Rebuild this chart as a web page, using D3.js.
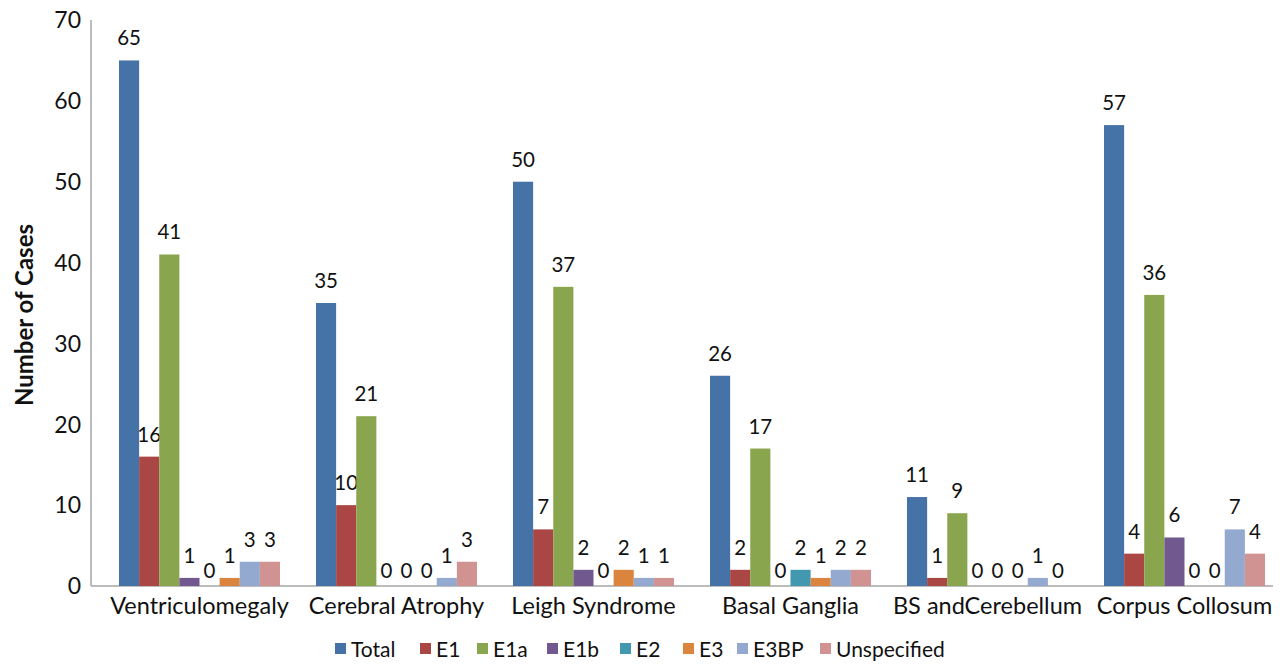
<!DOCTYPE html>
<html>
<head>
<meta charset="utf-8">
<script src="https://cdn.jsdelivr.net/npm/d3@7"></script>
<style>
  html, body { margin: 0; padding: 0; background: #ffffff; }
  svg { display: block; font-family: Lato, "Open Sans", sans-serif; }
</style>
</head>
<body>
<svg id="chart" width="1287" height="666"></svg>
<script>
const categories = ["Ventriculomegaly", "Cerebral Atrophy", "Leigh Syndrome", "Basal Ganglia", "BS andCerebellum", "Corpus Collosum"];
const seriesNames = ["Total", "E1", "E1a", "E1b", "E2", "E3", "E3BP", "Unspecified"];
const seriesColors = ["#4572A7", "#AA4643", "#89A54E", "#71588F", "#4198AF", "#DB843D", "#93A9CF", "#D19392"];
const total       = [65, 35, 50, 26, 11, 57];
const e1          = [16, 10, 7, 2, 1, 4];
const e1a         = [41, 21, 37, 17, 9, 36];
const e1b         = [1, 0, 2, 0, 0, 6];
const e2          = [0, 0, 0, 2, 0, 0];
const e3          = [1, 0, 2, 1, 0, 0];
const e3bp        = [3, 1, 1, 2, 1, 7];
const unspecified = [3, 3, 1, 2, 0, 4];
const yTicks = [0, 10, 20, 30, 40, 50, 60, 70];

const seriesValues = [total, e1, e1a, e1b, e2, e3, e3bp, unspecified];

const svg = d3.select("#chart");
const axisLeft = 91, axisRight = 1273, y0px = 586, yTop = 20;

const x0 = d3.scaleBand().domain(categories).range([101, 1283]).paddingInner(0).paddingOuter(0);
const groupW = 161;
const x1 = d3.scaleBand().domain(seriesNames).range([0, groupW]).padding(0);
const y = d3.scaleLinear().domain([0, 70]).range([y0px, yTop]);

// y axis line
svg.append("line").attr("x1", axisLeft).attr("x2", axisLeft).attr("y1", yTop).attr("y2", y0px)
  .attr("stroke", "#a6a6a6").attr("stroke-width", 1.5);
// x axis line
svg.append("line").attr("x1", axisLeft).attr("x2", axisRight).attr("y1", y0px).attr("y2", y0px)
  .attr("stroke", "#a6a6a6").attr("stroke-width", 1.5);

// y tick labels
svg.append("g").selectAll("text").data(yTicks).join("text")
  .attr("x", 81).attr("y", d => y(d)).attr("dy", "0.36em")
  .attr("text-anchor", "end").attr("font-size", 23).attr("fill", "#111")
  .text(d => d);

// y title
svg.append("text")
  .attr("transform", `translate(33,315) rotate(-90)`)
  .attr("text-anchor", "middle").attr("font-size", 24).attr("font-weight", "bold").attr("fill", "#111")
  .text("Number of Cases");

// bars
const groups = svg.append("g").selectAll("g").data(categories).join("g")
  .attr("transform", c => `translate(${x0(c) + (x0.bandwidth() - groupW) / 2},0)`);

groups.each(function(c, ci) {
  const g = d3.select(this);
  seriesNames.forEach((s, si) => {
    const v = seriesValues[si][ci];
    if (v > 0) {
      g.append("rect")
        .attr("x", x1(s)).attr("width", x1.bandwidth())
        .attr("y", y(v)).attr("height", y(0) - y(v))
        .attr("fill", seriesColors[si]);
    }
    g.append("text")
      .attr("x", x1(s) + x1.bandwidth() / 2)
      .attr("y", y(v) - (v === 0 ? 8 : 15))
      .attr("text-anchor", "middle").attr("font-size", 20.5).attr("fill", "#111")
      .text(v);
  });
});

// category labels
svg.append("g").selectAll("text").data(categories).join("text")
  .attr("x", c => x0(c) + x0.bandwidth() / 2).attr("y", 614)
  .attr("text-anchor", "middle").attr("font-size", 23.5).attr("fill", "#111")
  .text(c => c);

// legend
const legendX = [335, 420, 477, 547, 620, 683, 737, 820];
const legend = svg.append("g").selectAll("g").data(seriesNames).join("g")
  .attr("transform", (s, i) => `translate(${legendX[i]},649)`);
legend.append("rect").attr("x", 0).attr("y", -6).attr("width", 11).attr("height", 11)
  .attr("fill", (s, i) => seriesColors[i]);
legend.append("text").attr("x", 16).attr("y", 0).attr("dy", "0.36em")
  .attr("font-size", 21).attr("fill", "#111").text(s => s);
</script>
</body>
</html>
